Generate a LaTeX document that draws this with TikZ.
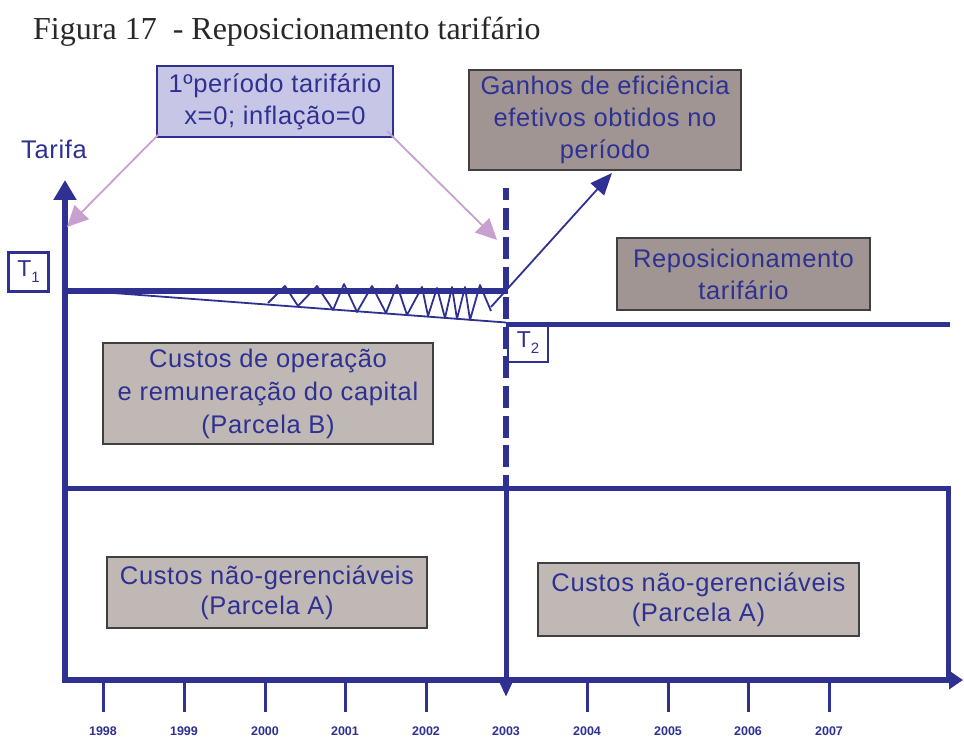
\documentclass[tikz,border=0pt]{standalone}
\usepackage{fontspec}
\setmainfont{Liberation Serif}
\newfontfamily\lsans[LetterSpace=2.5]{Liberation Sans}
\newfontfamily\lsansplain{Liberation Sans}
\usetikzlibrary{arrows.meta,calc}
\definecolor{navy}{RGB}{46,49,146}
\definecolor{lavfill}{RGB}{200,198,230}
\definecolor{lavline}{RGB}{200,160,208}
\definecolor{costfill}{RGB}{192,184,181}
\definecolor{gainfill}{RGB}{160,149,146}
\definecolor{boxedge}{RGB}{64,64,64}
\definecolor{titlegray}{RGB}{40,40,40}
\tikzset{
 txt/.style={font=\lsans\fontsize{25.5}{32}\selectfont, text=navy, align=center},
 costbox/.style={draw=boxedge, line width=2pt, fill=costfill, inner sep=0pt},
 gainbox/.style={draw=boxedge, line width=2pt, fill=gainfill, inner sep=0pt},
 lavbox/.style={draw=navy, line width=2pt, fill=lavfill, inner sep=0pt},
 tbox/.style={draw=navy, line width=2.5pt, fill=white, inner sep=0pt, minimum width=40pt, minimum height=39pt, font=\lsansplain\fontsize{23}{23}\selectfont, text=navy},
 axisline/.style={navy, line width=6pt},
 frameline/.style={navy, line width=5pt},
 tickline/.style={navy, line width=3pt},
 yearlbl/.style={font=\lsansplain\bfseries\fontsize{12.5}{12.5}\selectfont, text=navy},
 thinline/.style={navy, line width=1.8pt},
 pointer/.style={lavline, line width=1.8pt, -{Triangle[length=21pt,width=20pt]}},
}
\begin{document}
\begin{tikzpicture}[x=1pt,y=-1pt]
\useasboundingbox (0,0) rectangle (964,738);
% title
\node[anchor=base west, inner sep=0pt, font=\fontsize{32}{32}\selectfont, text=titlegray] (title) at (33,40) {Figura 17\ \ - Reposicionamento tarif\'ario};
% boxes
\node[lavbox, txt, minimum width=236pt, minimum height=71pt] (per) at (275,101.5) {1ºperíodo tarifário\\x=0; inflação=0};
\node[gainbox, txt, minimum width=272pt, minimum height=100pt] (gain) at (605,120) {Ganhos de eficiência\\efetivos obtidos no\\período};
\node[gainbox, txt, minimum width=253pt, minimum height=72pt] (repo) at (743.5,274) {Reposicionamento\\tarifário};
\node[costbox, txt, font=\lsans\fontsize{25.5}{33}\selectfont, minimum width=330pt, minimum height=101pt] (parcB) at (268,393.5) {Custos de operação\\e remuneração do capital\\(Parcela B)};
\node[costbox, txt, font=\lsans\fontsize{25.5}{30}\selectfont, minimum width=320pt, minimum height=71pt] (parcA1) at (267,592.5) {Custos não-gerenciáveis\\(Parcela A)};
\node[costbox, txt, font=\lsans\fontsize{25.5}{30}\selectfont, minimum width=321pt, minimum height=73pt] (parcA2) at (698.5,599.5) {Custos não-gerenciáveis\\(Parcela A)};
\node[txt] (tarifa) at (54,149) {Tarifa};
% T boxes
\node[tbox] (t1) at (28.5,272) {T\raisebox{-6pt}{\fontsize{15}{15}\selectfont 1}};
\node[tbox] (t2) at (528,342.5) {T\raisebox{-6pt}{\fontsize{15}{15}\selectfont 2}};
% axes
\coordinate (orig) at (65,683);
\coordinate (ytip) at (65,180);
\coordinate (xstart) at (62,680);
\coordinate (xtip) at (963,680);
\draw[axisline, -{Triangle[length=20pt,width=22pt]}] (orig) -- (ytip);
\draw[axisline, -{Triangle[length=14pt,width=18pt]}] (xstart) -- (xtip);
% lower frame
\coordinate (fl) at (65,488);
\coordinate (fr) at (948,488);
\coordinate (fb) at (948,680);
\draw[frameline, line join=miter] (fl) -- (fr) -- (fb);
% 2003 vertical
\coordinate (vtop) at (506,188);
\coordinate (vmid) at (506,488);
\coordinate (vtip) at (506,697);
\draw[navy, line width=6.5pt, dash pattern=on 22pt off 7.7pt, dash phase=10pt] (vtop) -- (vmid);
\draw[navy, line width=5pt, -{Triangle[length=16pt,width=13pt]}] (vmid) -- (vtip);
% tariff lines
\coordinate (t1a) at (65,291);
\coordinate (t1b) at (508,291);
\draw[axisline] (t1a) -- (t1b);
\coordinate (t2a) at (506,324.5);
\coordinate (t2b) at (950,324.5);
\draw[navy, line width=5pt] (t2a) -- (t2b);
\coordinate (sa) at (100,292);
\coordinate (sb) at (506,322.5);
\draw[thinline] (sa) -- (sb);
% zigzag
\draw[navy, line width=1.8pt, line join=round] (268,303) -- (285,286) -- (298,306) -- (317,286) -- (333,310) -- (344,284) -- (357,312) -- (372,286) -- (386,313) -- (397,285) -- (407,315) -- (422,287) -- (428,316) -- (437,288) -- (445,318) -- (452,287) -- (457,319) -- (465,287) -- (470,320) -- (480,285) -- (491,311);
% pointer arrows
\coordinate (gstart) at (491,307);
\draw[thinline, -{Triangle[length=22pt,width=18pt]}] (gstart) -- ($(gain.south)+(7,2)$);
\draw[pointer] ($(per.south west)+(3,-4)$) -- (67,227);
\draw[pointer] ($(per.south east)+(-7,-7)$) -- (497,240);
% ticks and years
\foreach \x/\yr in {103/1998,184/1999,265/2000,345/2001,426/2002,587/2004,668/2005,748/2006,829/2007}{
  \draw[tickline] (\x,683) -- (\x,712);
}
\foreach \x/\yr in {103/1998,184/1999,265/2000,345/2001,426/2002,506/2003,587/2004,668/2005,748/2006,829/2007}{
  \node[yearlbl] (yr\yr) at (\x,731) {\yr};
}
\end{tikzpicture}
\end{document}
